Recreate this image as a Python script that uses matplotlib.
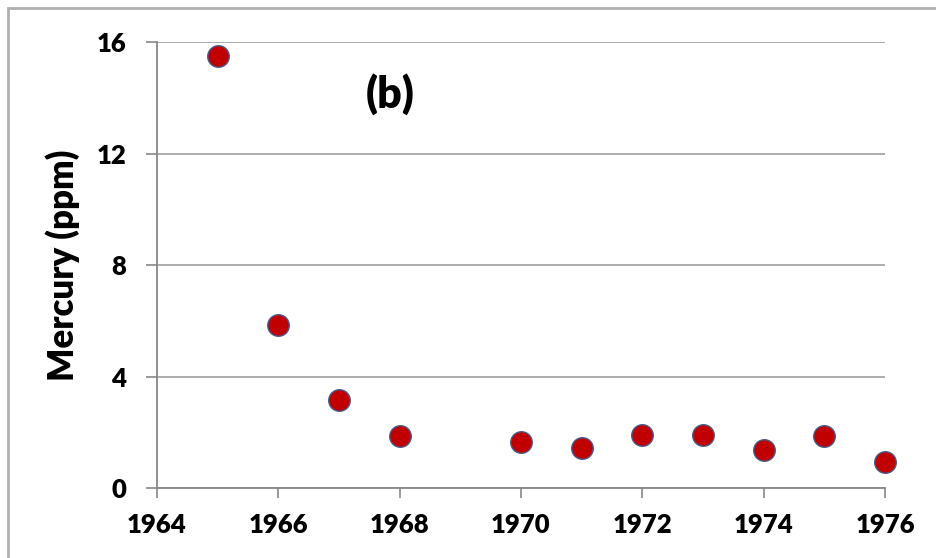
import matplotlib
matplotlib.use("Agg")
import matplotlib.pyplot as plt
from matplotlib.patches import Rectangle

years = [1965, 1966, 1967, 1968, 1970, 1971, 1972, 1973, 1974, 1975, 1976]
mercury = [15.5, 5.85, 3.15, 1.85, 1.65, 1.43, 1.92, 1.92, 1.35, 1.85, 0.93]
xticks = [1964, 1966, 1968, 1970, 1972, 1974, 1976]
yticks = [0, 4, 8, 12, 16]

plt.rcParams['font.family'] = ['Lato', 'DejaVu Sans']

fig = plt.figure(figsize=(9.36, 5.58), dpi=100)
ax = fig.add_axes([0.1677, 0.1254, 0.9455 - 0.1677, 0.9247 - 0.1254])

fig.patches.append(Rectangle((8/936, -0.1), 1.2, 1 - 8/558 + 0.1, transform=fig.transFigure,
                             fill=False, edgecolor='#b0b0b0', linewidth=2.0))

ax.scatter(years, mercury, s=15.5**2, c='#c00000', edgecolors='#4a5a8a', linewidths=1.0, zorder=3, clip_on=False)

ax.set_xlim(1964, 1976)
ax.set_ylim(0, 16)
ax.set_xticks(xticks)
ax.set_yticks(yticks)
ax.set_xticklabels([str(t) for t in xticks], fontsize=18.5, fontweight='heavy')
ax.set_yticklabels([str(t) for t in yticks], fontsize=18.5, fontweight='heavy')
ax.tick_params(axis='x', direction='out', length=7, width=1.2, color='#888888', pad=11)
ax.tick_params(axis='y', direction='out', length=8, width=1.2, color='#888888', pad=14)

ax.grid(axis='y', color='#a6a6a6', linewidth=1.3)
ax.set_axisbelow(True)
for s in ['top', 'right']:
    ax.spines[s].set_visible(False)
for s in ['left', 'bottom']:
    ax.spines[s].set_color('#888888')
    ax.spines[s].set_linewidth(1.3)

ax.set_ylabel('Mercury (ppm)', fontsize=25, fontweight='heavy', labelpad=12)
ax.text(0.32, 0.883, '(b)', transform=ax.transAxes, fontsize=31, fontweight='heavy', ha='center', va='center')

fig.savefig('out.png', dpi=100)
